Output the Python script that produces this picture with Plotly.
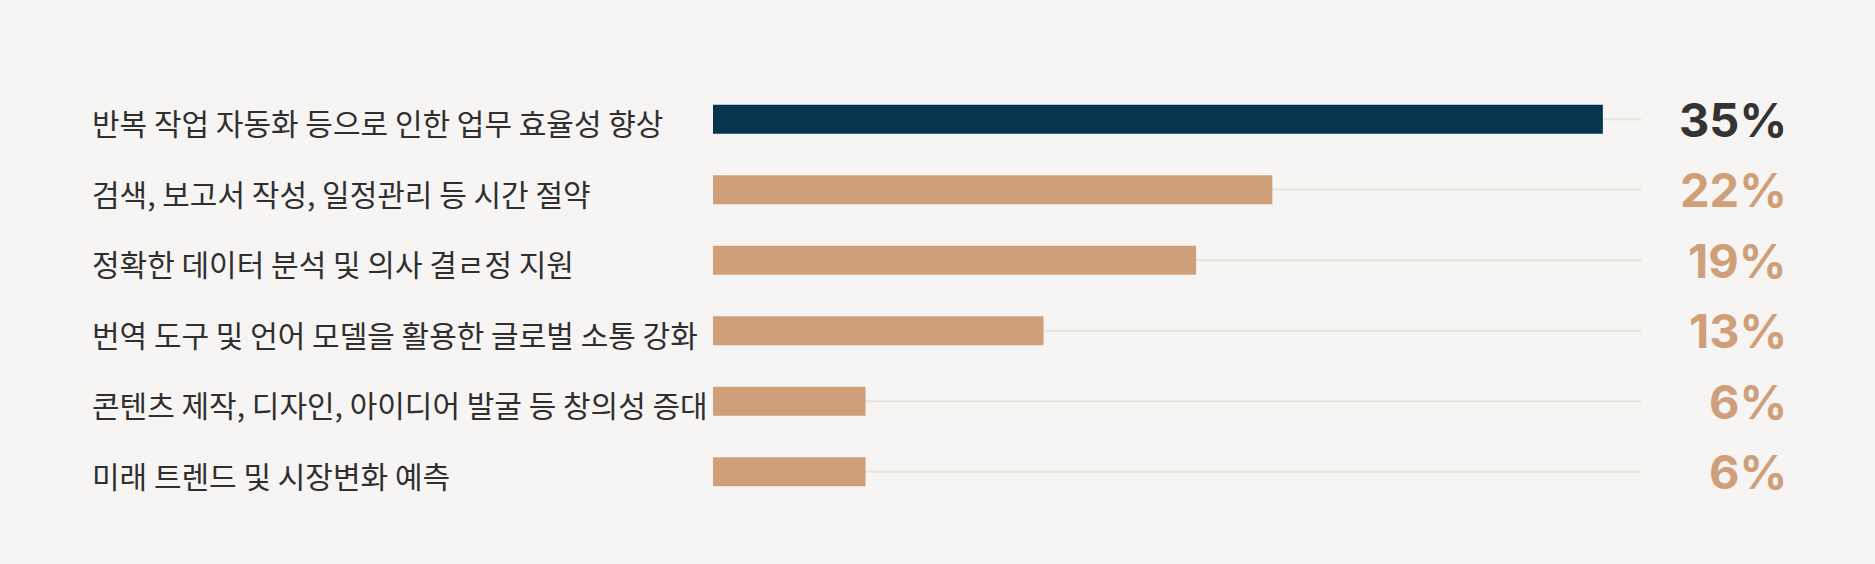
import plotly.graph_objects as go

categories = [
    "반복 작업 자동화 등으로 인한 업무 효율성 향상",
    "검색, 보고서 작성, 일정관리 등 시간 절약",
    "정확한 데이터 분석 및 의사 결ㄹ정 지원",
    "번역 도구 및 언어 모델을 활용한 글로벌 소통 강화",
    "콘텐츠 제작, 디자인, 아이디어 발굴 등 창의성 증대",
    "미래 트렌드 및 시장변화 예측",
]
values = [35, 22, 19, 13, 6, 6]
track_max = 36.5

BG = "#f6f5f3"
NAVY = "#08344d"
TAN = "#cf9f7a"
DARK = "#333333"
TRACK = "#e6e3dc"

bar_colors = [NAVY if i == 0 else TAN for i in range(len(values))]
text_colors = [DARK if i == 0 else TAN for i in range(len(values))]

fig = go.Figure()
fig.add_trace(go.Bar(
    y=categories, x=[track_max] * len(categories), orientation="h",
    width=0.03, marker=dict(color=TRACK, line=dict(width=0)),
    hoverinfo="skip", showlegend=False,
))
fig.add_trace(go.Bar(
    y=categories, x=values, orientation="h",
    width=0.41, marker=dict(color=bar_colors, line=dict(width=0)),
    showlegend=False,
))

for cat, v, c in zip(categories, values, text_colors):
    fig.add_annotation(
        x=-0.671, xref="paper", y=cat, yref="y", text=cat,
        xanchor="left", yanchor="middle", showarrow=False, yshift=-3,
        font=dict(family="Noto Sans CJK KR", size=30, color="#2f2f2f"),
    )
    fig.add_annotation(
        x=1.159, xref="paper", y=cat, yref="y", text=f"<b>{v}%</b>",
        xanchor="right", yanchor="middle", showarrow=False,
        font=dict(family="Inter", size=47, color=c),
    )

fig.update_layout(
    width=1875, height=564,
    margin=dict(l=713, r=234, t=84, b=57),
    paper_bgcolor=BG, plot_bgcolor=BG,
    barmode="overlay",
    xaxis=dict(range=[0, track_max], visible=False, fixedrange=True),
    yaxis=dict(autorange="reversed", visible=False, fixedrange=True),
)

fig.write_html(
    "out.html",
    config={"displayModeBar": False},
    post_script="document.body.style.margin='0';document.body.style.background='%s';" % BG,
)
